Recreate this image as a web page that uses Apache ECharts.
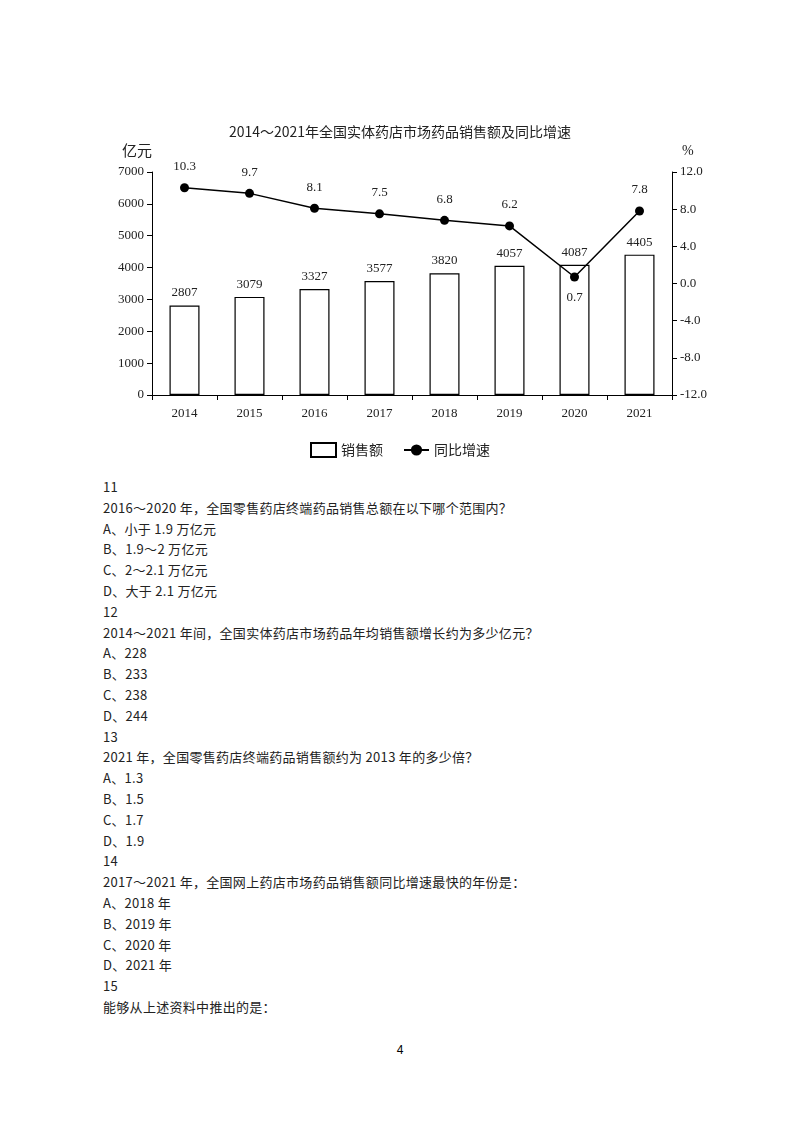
<!DOCTYPE html>
<html><head><meta charset="utf-8">
<script src="https://cdn.jsdelivr.net/npm/echarts@6/dist/echarts.min.js"></script>
<style>
body{margin:0;background:#fff;width:800px;height:1132px;position:relative;overflow:hidden}
#c{position:absolute;left:0;top:0;width:800px;height:475px}
#t{position:absolute;left:103px;top:477px;font-family:"Noto Sans CJK SC";font-size:13px;line-height:20.8px;color:#222;letter-spacing:0.3px}
#p{position:absolute;left:0;width:800px;top:1043px;text-align:center;font-family:"Liberation Sans";font-size:12px}
</style></head><body>
<div id="c"></div><div id="t"></div><div id="p">4</div>
<script>
const categories=['2014','2015','2016','2017','2018','2019','2020','2021'];
const sales=[2807,3079,3327,3577,3820,4057,4087,4405];
const growth=[10.3,9.7,8.1,7.5,6.8,6.2,0.7,7.8];
const textLines=['11','2016～2020 年，全国零售药店终端药品销售总额在以下哪个范围内？','A、小于 1.9 万亿元','B、1.9～2 万亿元','C、2～2.1 万亿元','D、大于 2.1 万亿元','12','2014～2021 年间，全国实体药店市场药品年均销售额增长约为多少亿元？','A、228','B、233','C、238','D、244','13','2021 年，全国零售药店终端药品销售额约为 2013 年的多少倍？','A、1.3','B、1.5','C、1.7','D、1.9','14','2017～2021 年，全国网上药店市场药品销售额同比增速最快的年份是：','A、2018 年','B、2019 年','C、2020 年','D、2021 年','15','能够从上述资料中推出的是：'];
document.getElementById('t').innerHTML=textLines.map(s=>'<div>'+s+'</div>').join('');
const F='Liberation Serif';
const ch=echarts.init(document.getElementById('c'));
ch.setOption({
 animation:false,
 title:{text:'2014～2021年全国实体药店市场药品销售额及同比增速',left:'center',top:120,textStyle:{fontFamily:'Noto Sans CJK SC',fontSize:14,fontWeight:'normal',color:'#222'}},
 grid:{left:152,right:128,top:172,bottom:80},
 legend:{bottom:12,left:'center',itemGap:20,textStyle:{fontFamily:'Noto Sans CJK SC',fontSize:14,color:'#222'},
   data:[{name:'销售额',icon:'rect'},{name:'同比增速'}]},
 xAxis:{type:'category',data:categories,axisLine:{lineStyle:{color:'#000'}},axisTick:{show:true,lineStyle:{color:'#000'}},
   axisLabel:{fontFamily:F,fontSize:13,color:'#222',margin:12}},
 yAxis:[
  {type:'value',min:0,max:7000,interval:1000,name:'亿元',nameGap:14,nameTextStyle:{fontFamily:'Noto Sans CJK SC',fontSize:15,color:'#222',align:'right'},
   axisLine:{show:true,lineStyle:{color:'#000'}},axisTick:{show:true,lineStyle:{color:'#000'}},splitLine:{show:false},
   axisLabel:{fontFamily:F,fontSize:13,color:'#222',formatter:v=>String(v)}},
  {type:'value',min:-12,max:12,interval:4,name:'%',nameGap:14,nameTextStyle:{fontFamily:F,fontSize:14,color:'#222',align:'left',padding:[0,0,0,10]},
   axisLine:{show:true,lineStyle:{color:'#000'}},axisTick:{show:true,lineStyle:{color:'#000'}},splitLine:{show:false},
   axisLabel:{fontFamily:F,fontSize:13,color:'#222',formatter:v=>v.toFixed(1)}}
 ],
 series:[
  {name:'销售额',type:'bar',data:sales,barWidth:30,itemStyle:{color:'#fff',borderColor:'#000',borderWidth:1.2},
   label:{show:true,position:'top',fontFamily:F,fontSize:13,color:'#222',distance:6}},
  {name:'同比增速',type:'line',yAxisIndex:1,data:growth.map((v,i)=>({value:v,label:{position:i===6?'bottom':'top'}})),
   symbol:'circle',symbolSize:9,lineStyle:{color:'#000',width:1.5},itemStyle:{color:'#000'},
   label:{show:true,fontFamily:F,fontSize:13,color:'#222',distance:10},z:5}
 ]
});
</script></body></html>
